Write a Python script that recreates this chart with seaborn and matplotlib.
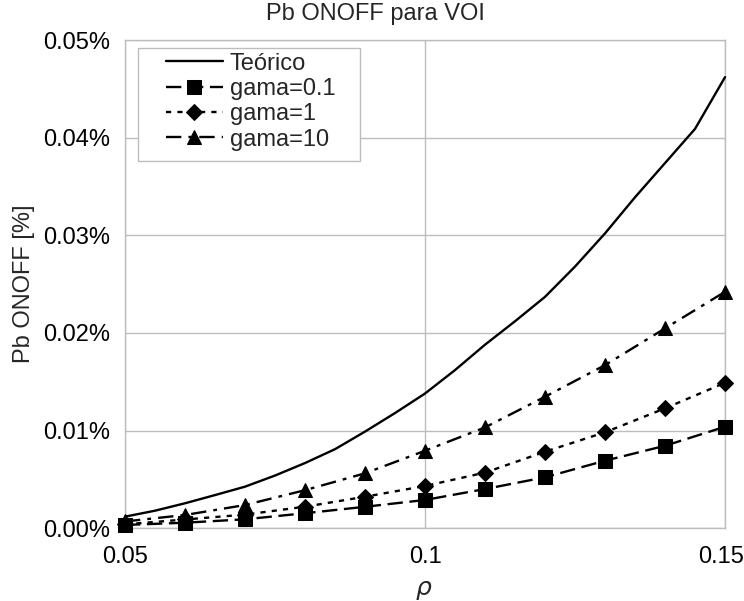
import matplotlib
matplotlib.use("Agg")
import matplotlib.pyplot as plt
import matplotlib.transforms as mtransforms
from matplotlib.patches import Rectangle
import seaborn as sns
import pandas as pd

# ---- data (values in percent) ----
rho_theo = [0.05, 0.055, 0.06, 0.065, 0.07, 0.075, 0.08, 0.085, 0.09, 0.095, 0.10,
            0.105, 0.11, 0.115, 0.12, 0.125, 0.13, 0.135, 0.14, 0.145, 0.15]
pb_theo = [0.00119, 0.0018, 0.00256, 0.0034, 0.00426, 0.0054, 0.00668, 0.0081, 0.0099,
           0.0118, 0.0138, 0.0162, 0.0188, 0.0212, 0.0237, 0.0268, 0.0302, 0.0339,
           0.0374, 0.0409, 0.0462]

rho_sim = [0.05, 0.06, 0.07, 0.08, 0.09, 0.10, 0.11, 0.12, 0.13, 0.14, 0.15]
pb_g01 = [0.00034, 0.00057, 0.00092, 0.00154, 0.0022, 0.0029, 0.00402, 0.00522, 0.00692, 0.00845, 0.0104]
pb_g1 = [0.0004, 0.0009, 0.0014, 0.00221, 0.00323, 0.00433, 0.0057, 0.00784, 0.00983, 0.01228, 0.0149]
pb_g10 = [0.0007, 0.00136, 0.00238, 0.0039, 0.00563, 0.00794, 0.01033, 0.01347, 0.01671, 0.02047, 0.02422]

labels = ["Teórico", "gama=0.1", "gama=1", "gama=10"]
x_ticks = [0.05, 0.1, 0.15]
x_ticklabels = ["0.05", "0.1", "0.15"]
y_ticks = [0.0, 0.01, 0.02, 0.03, 0.04, 0.05]

sns.set_theme(style="white")
plt.rcParams["font.family"] = ["Liberation Sans", "DejaVu Sans"]

FS = 17
GRID = "#bdbdbd"

fig = plt.figure(figsize=(7.44, 6.01), dpi=100)
ax = fig.add_axes([0.168, 0.121, 0.8065, 0.8124])

df_t = pd.DataFrame({"rho": rho_theo, "pb": pb_theo})
df_s = pd.DataFrame({"rho": rho_sim, "g01": pb_g01, "g1": pb_g1, "g10": pb_g10})

lw = 1.7
sns.lineplot(data=df_t, x="rho", y="pb", ax=ax, color="black", lw=lw,
             label=labels[0], errorbar=None, clip_on=False, zorder=5)
sns.lineplot(data=df_s, x="rho", y="g01", ax=ax, color="black", lw=lw,
             linestyle=(0, (6.5, 2.8)), marker="s", markersize=9.5,
             markeredgecolor="black", markerfacecolor="black",
             label=labels[1], errorbar=None, clip_on=False, zorder=5)
sns.lineplot(data=df_s, x="rho", y="g1", ax=ax, color="black", lw=lw,
             linestyle=(0, (2.2, 2.6)), marker="D", markersize=8.5,
             markeredgecolor="black", markerfacecolor="black",
             label=labels[2], errorbar=None, clip_on=False, zorder=5)
sns.lineplot(data=df_s, x="rho", y="g10", ax=ax, color="black", lw=lw,
             linestyle=(0, (6.5, 3.0, 1.6, 3.0)), marker="^", markersize=10.5,
             markeredgecolor="black", markerfacecolor="black",
             label=labels[3], errorbar=None, clip_on=False, zorder=5)

ax.set_xlim(0.05, 0.15)
ax.set_ylim(0, 0.05)
ax.set_xticks(x_ticks)
ax.set_xticklabels(x_ticklabels)
ax.set_yticks(y_ticks)
ax.set_yticklabels([f"{v:.2f}%" for v in y_ticks])
ax.tick_params(axis="both", labelsize=FS, colors="black", length=5, width=1,
               direction="out", color=GRID)
ax.tick_params(axis="x", pad=8)
ax.tick_params(axis="y", pad=6)
ax.grid(True, color=GRID, lw=1)
for s in ax.spines.values():
    s.set_color(GRID)
    s.set_linewidth(1)
ax.set_xlabel("")
ax.set_ylabel("")

# keep the last x tick label inside the figure
last = ax.get_xticklabels()[-1]
last.set_transform(last.get_transform() +
                   mtransforms.ScaledTranslation(-4 / 100, 0, fig.dpi_scale_trans))

# legend frame drawn as a rectangle, legend content without frame
ax.add_patch(Rectangle((0.0217, 0.7528), 0.37, 0.2302, transform=ax.transAxes,
                       facecolor="white", edgecolor=GRID, lw=1, zorder=6))
leg = ax.legend(loc="upper left", bbox_to_anchor=(0.0683, 0.9740), frameon=False,
                borderpad=0, fontsize=FS, handlelength=2.4, handletextpad=0.3,
                labelspacing=0.14, numpoints=1, borderaxespad=0)
leg.set_zorder(7)

fig.text(375 / 744, 1 - 14 / 601, "Pb ONOFF para VOI", ha="center", va="center", fontsize=FS)
fig.text(24 / 744, 1 - 284 / 601, "Pb ONOFF [%]", ha="center", va="center",
         rotation=90, fontsize=FS)
fig.text(424 / 744, 1 - 590 / 601, r"$\rho$", ha="center", va="center", fontsize=FS + 1)

fig.savefig("out.png", dpi=100)
